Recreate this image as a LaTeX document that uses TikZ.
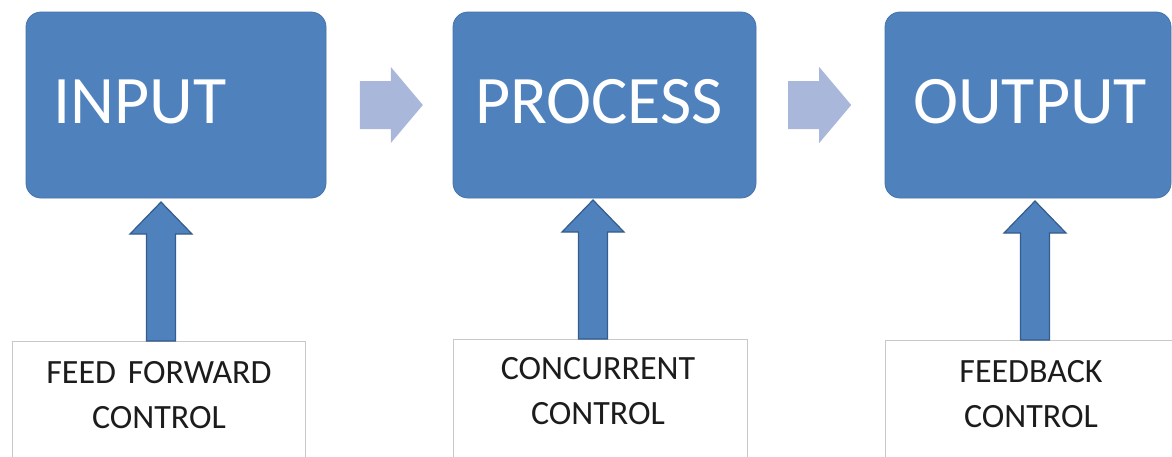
\documentclass[tikz,border=0pt]{standalone}
\usepackage{fontspec}
\setmainfont{Carlito}
\usetikzlibrary{calc}
\definecolor{boxblue}{HTML}{4F81BD}
\definecolor{boxedge}{HTML}{4674AC}
\definecolor{arrowedge}{HTML}{345C8C}
\definecolor{lightarrow}{HTML}{A9B8DA}
\definecolor{ctrledge}{HTML}{C8C8C8}
\definecolor{ctrltxt}{HTML}{1C1C1C}
\tikzset{
  mainbox/.style={draw=boxedge, line width=0.8pt, fill=boxblue, rounded corners=15pt, inner sep=0pt},
  maintext/.style={text=white, font=\fontsize{68}{72}\selectfont, inner sep=0pt},
  ctrlbox/.style={draw=ctrledge, line width=0.8pt, fill=white, inner sep=0pt},
  ctrltext/.style={text=ctrltxt, font=\fontsize{34}{45}\selectfont, align=center, inner sep=0pt},
  sidearrow/.style={fill=lightarrow, draw=none},
  uparrow/.style={fill=boxblue, draw=arrowedge, line width=1.2pt, line join=miter},
}
\begin{document}
\begin{tikzpicture}[x=1pt,y=-1pt]
\useasboundingbox[fill=white] (0,0) rectangle (1172,456);
% main boxes
\node[mainbox, minimum width=300pt, minimum height=186pt] (in) at (176,105) {};
\node[mainbox, minimum width=303pt, minimum height=186pt] (pr) at (604.5,105) {};
\node[mainbox, minimum width=286pt, minimum height=186pt] (out) at (1028,105) {};
\node[maintext, anchor=base west] (intxt) at (53,123.5) {INPUT};
\node[maintext, anchor=base west] (prtxt) at (475,123.5) {PROCESS};
\node[maintext, anchor=base west] (outtxt) at (913,123.5) {OUTPUT};
% control boxes
\node[ctrlbox, minimum width=293pt, minimum height=140pt, anchor=north] (ff) at (158.5,341) {};
\node[ctrlbox, minimum width=294pt, minimum height=140pt, anchor=north] (cc) at (600,339) {};
\node[ctrlbox, minimum width=300pt, minimum height=140pt, anchor=north] (fb) at (1035,340) {};
\node[ctrltext, anchor=base] (fftxt) at (159,428) {FEED\hspace{0.12em} FORWARD\\CONTROL};
\node[ctrltext, anchor=base] (cctxt) at (598,424) {CONCURRENT\\CONTROL};
\node[ctrltext, anchor=base] (fbtxt) at (1031,427) {FEEDBACK\\CONTROL};
% side arrows
\coordinate (s1) at ($(in.east)!0.265!(pr.west)$);
\coordinate (s2) at ($(pr.east)!0.248!(out.west)$);
\foreach \s in {s1,s2}{
  \path[sidearrow] (\s) ++(0,-24) -- ++(31,0) -- ++(0,-14) -- ++(32,38) -- ++(-32,38) -- ++(0,-14) -- ++(-31,0) -- cycle;
}
% up arrows
\coordinate (u1) at ($(ff.north)+(2.5,0)$);
\coordinate (u2) at ($(cc.north)+(-7,0)$);
\coordinate (u3) at ($(fb.north)+(0,0)$);
\foreach \u in {u1,u2,u3}{
  \path[uparrow] (\u) ++(-14.5,0) -- ++(0,-107) -- ++(-16.5,0) -- ++(31,-32) -- ++(31,32) -- ++(-16.5,0) -- ++(0,107) -- cycle;
}
\end{tikzpicture}
\end{document}
